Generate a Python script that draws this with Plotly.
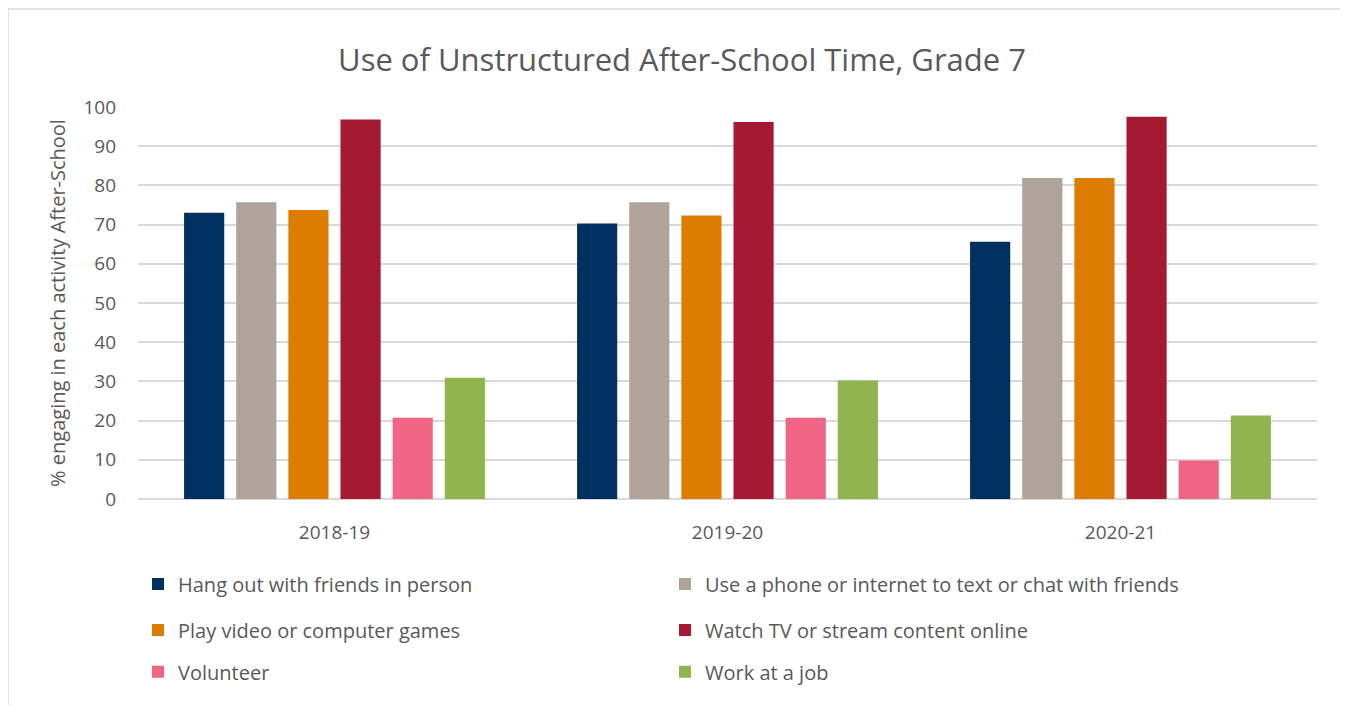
import plotly.graph_objects as go

years = ["2018-19", "2019-20", "2020-21"]
series_names = [
    "Hang out with friends in person",
    "Use a phone or internet to text or chat with friends",
    "Play video or computer games",
    "Watch TV or stream content online",
    "Volunteer",
    "Work at a job",
]
hang_out = [73.0, 70.3, 65.6]
phone_chat = [75.7, 75.7, 81.9]
video_games = [73.7, 72.3, 81.9]
watch_tv = [96.8, 96.2, 97.5]
volunteer = [20.7, 20.7, 9.8]
work_job = [30.9, 30.2, 21.3]

values = [hang_out, phone_chat, video_games, watch_tv, volunteer, work_job]
colors = ["#00305F", "#AFA39A", "#DD7C00", "#A51A32", "#EF6583", "#90B44E"]
legend_ids = ["legend", "legend", "legend2", "legend2", "legend3", "legend3"]

FONT = "Open Sans"
TXT = "#595959"

fig = go.Figure()
for name, vals, col, lg in zip(series_names, values, colors, legend_ids):
    fig.add_trace(go.Bar(
        x=years, y=vals, name=name, legend=lg,
        marker=dict(color=col, line=dict(width=0)),
    ))

leg_common = dict(
    orientation="h", x=0.0, xanchor="left", yanchor="middle",
    entrywidth=482, entrywidthmode="pixels",
    font=dict(family=FONT, size=20, color=TXT),
    bgcolor="rgba(0,0,0,0)",
)

fig.update_layout(
    width=1348, height=705,
    margin=dict(l=130, r=39, t=99, b=214),
    paper_bgcolor="white", plot_bgcolor="white",
    barmode="group", bargap=0.204, bargroupgap=0.23,
    title=dict(text="Use of Unstructured After-School Time, Grade 7",
               x=0.5, xanchor="center", y=0.926, yanchor="middle",
               font=dict(family=FONT, size=31, color=TXT)),
    font=dict(family=FONT, color=TXT),
    legend=dict(leg_common, y=-0.2168),
    legend2=dict(leg_common, y=-0.334),
    legend3=dict(leg_common, y=-0.441),
    xaxis=dict(showline=False, ticks="", ticklabelstandoff=20,
               tickfont=dict(family=FONT, size=19, color=TXT)),
    yaxis=dict(range=[0, 100], dtick=10, showgrid=True, gridcolor="#D9D9D9", gridwidth=1.5,
               zeroline=True, zerolinecolor="#D9D9D9", zerolinewidth=1.5,
               tickfont=dict(family=FONT, size=19, color=TXT), ticks="", ticklabelstandoff=21,
               title=dict(text="% engaging in each activity After-School", standoff=12,
                          font=dict(family=FONT, size=20, color=TXT))),
    shapes=[dict(type="rect", xref="paper", yref="paper",
                 x0=-0.1103, x1=1.0255, y0=-0.584, y1=1.25,
                 line=dict(color="#D9D9D9", width=1.5), fillcolor="rgba(0,0,0,0)", layer="below")],
)

fig.write_html("out.html")
